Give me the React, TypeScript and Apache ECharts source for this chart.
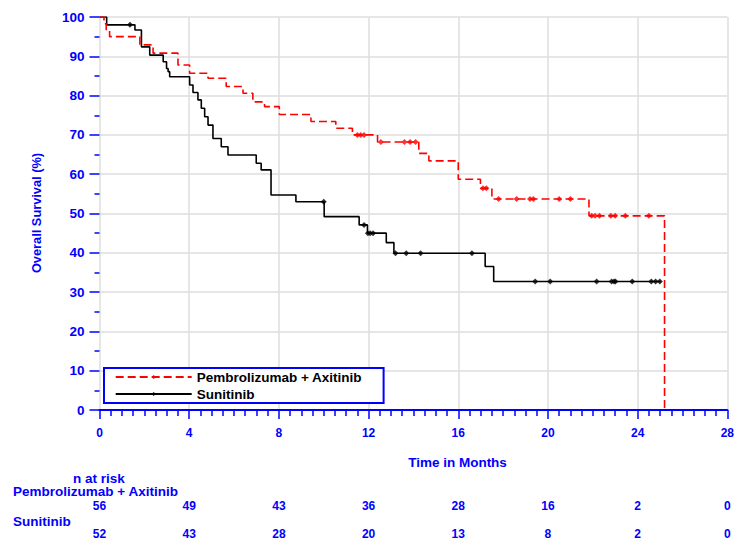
import React, { useEffect, useRef } from "react";
import * as echarts from "echarts";

// ---- data ----
const monthTicks = [0, 4, 8, 12, 16, 20, 24, 28];
const riskPembro = [56, 49, 43, 36, 28, 16, 2, 0];
const riskSunit = [52, 43, 28, 20, 13, 8, 2, 0];

const pembroName = "Pembrolizumab + Axitinib";
const sunitName = "Sunitinib";

// Kaplan-Meier steps: [time in months, survival % after that time]
const pembroSteps: [number, number][] = [
  [0, 100], [0.2, 98.3], [0.3, 96.6], [0.45, 95.0], [1.8, 92.9], [2.39, 90.8],
  [3.5, 87.8], [4.02, 85.7], [4.84, 84.4], [5.65, 82.3], [6.4, 80.6], [6.84, 78.4],
  [7.36, 77.2], [8.02, 75.2], [9.43, 73.4], [10.54, 71.7], [11.28, 70.0], [12.4, 68.2],
  [14.24, 65.3], [14.69, 63.4], [16.0, 58.7], [16.99, 56.4], [17.5, 53.7], [21.83, 49.4],
  [25.2, 49.4], [25.2, 0],
];
const sunitSteps: [number, number][] = [
  [0, 100], [0.32, 98.0], [1.58, 96.7], [1.87, 92.4], [2.24, 90.3], [2.84, 88.6],
  [2.99, 86.9], [3.06, 86.1], [3.13, 84.8], [4.02, 82.7], [4.17, 80.8], [4.39, 78.9],
  [4.54, 76.8], [4.69, 74.6], [4.84, 72.5], [5.06, 69.1], [5.43, 67.0], [5.73, 64.9],
  [6.99, 62.8], [7.21, 61.1], [7.65, 54.7], [8.76, 53.0], [10.02, 49.2], [11.58, 47.1],
  [11.95, 45.0], [12.79, 42.6], [13.13, 39.9], [17.2, 36.5], [17.58, 32.7], [25.04, 32.7],
];
const pembroCensorTimes = [
  11.5, 11.65, 11.8, 12.55, 13.6, 13.85, 14.1, 17.1, 17.25, 17.8, 18.6, 19.2, 19.35,
  20.5, 21.0, 21.95, 22.1, 22.3, 22.8, 23.0, 23.45, 24.5,
];
const sunitCensorTimes = [
  1.36, 10.0, 11.8, 11.97, 12.07, 12.2, 13.2, 13.68, 14.32, 16.61, 19.43, 20.1, 22.17,
  22.84, 22.95, 23.01, 23.76, 24.61, 24.8, 24.99,
];

function survivalAt(steps: [number, number][], t: number): number {
  let s = steps[0][1];
  for (const [x, y] of steps) {
    if (x <= t) s = y;
    else break;
  }
  return s;
}

const BLUE = "#0000ff";
const FONT = "'Liberation Sans', Arial, sans-serif";

export default function App() {
  const ref = useRef<HTMLDivElement>(null);

  useEffect(() => {
    if (!ref.current) return;
    const chart = echarts.init(ref.current, undefined, { renderer: "svg" });

    const riskAxis = (risk: number[], offset: number) => ({
      type: "value",
      gridIndex: 0,
      position: "bottom",
      offset,
      min: 0,
      max: 28,
      interval: 4,
      axisLine: { show: false },
      axisTick: { show: false },
      splitLine: { show: false },
      axisLabel: {
        margin: 6,
        color: BLUE,
        fontSize: 12,
        fontWeight: "bold",
        fontFamily: FONT,
        formatter: (v: number) => {
          const i = monthTicks.indexOf(v);
          return i >= 0 ? String(risk[i]) : "";
        },
      },
    });

    chart.setOption({
      animation: false,
      backgroundColor: "#ffffff",
      grid: { left: 99.5, right: 7.5, top: 17, bottom: 135, containLabel: false },
      xAxis: [
        {
          type: "value",
          min: 0,
          max: 28,
          interval: 4,
          axisLine: { show: true, lineStyle: { color: BLUE, width: 2 } },
          axisTick: { show: true, length: 9, lineStyle: { color: BLUE, width: 1.5 } },
          minorTick: { show: true, splitNumber: 8, length: 6, lineStyle: { color: BLUE, width: 1.5 } },
          splitLine: { show: true, lineStyle: { color: "#dedede", width: 1.5 } },
          axisLabel: { margin: 17, color: BLUE, fontSize: 12, fontWeight: "bold", fontFamily: FONT },
        },
        riskAxis(riskPembro, 84),
        riskAxis(riskSunit, 112),
      ],
      yAxis: {
        type: "value",
        min: 0,
        max: 100,
        interval: 10,
        axisLine: { show: false },
        axisTick: { show: true, length: 10, lineStyle: { color: BLUE, width: 1.5 } },
        minorTick: { show: true, splitNumber: 2, length: 5, lineStyle: { color: BLUE, width: 1.5 } },
        splitLine: { show: true, lineStyle: { color: "#dedede", width: 1.5 } },
        axisLabel: { margin: 15, color: BLUE, fontSize: 13.5, fontWeight: "bold", fontFamily: FONT },
      },
      legend: {
        left: 104,
        top: 368,
        orient: "vertical",
        data: [pembroName, sunitName],
        itemWidth: 76,
        itemHeight: 5,
        itemGap: 3,
        padding: [2, 21.5, 2, 10.7],
        borderColor: BLUE,
        borderWidth: 2,
        borderRadius: 0,
        backgroundColor: "#ffffff",
        textStyle: { color: "#000", fontSize: 13.5, fontWeight: "bold", fontFamily: FONT },
      },
      series: [
        {
          name: sunitName,
          type: "line",
          step: "end",
          data: sunitSteps,
          symbol: "diamond",
          symbolSize: 4,
          showSymbol: false,
          lineStyle: { color: "#000000", width: 1.6 },
          itemStyle: { color: "#000000" },
          z: 3,
        },
        {
          name: pembroName,
          type: "line",
          step: "end",
          data: pembroSteps,
          symbol: "diamond",
          symbolSize: 4,
          showSymbol: false,
          lineStyle: { color: "#ff0000", width: 1.6, type: [8, 4] },
          itemStyle: { color: "#ff0000" },
          z: 4,
        },
        {
          name: "sunitCensor",
          type: "scatter",
          data: sunitCensorTimes.map((t) => [t, survivalAt(sunitSteps, t)]),
          symbol: "diamond",
          symbolSize: 6,
          itemStyle: { color: "#000000" },
          z: 5,
        },
        {
          name: "pembroCensor",
          type: "scatter",
          data: pembroCensorTimes.map((t) => [t, survivalAt(pembroSteps, t)]),
          symbol: "diamond",
          symbolSize: 6,
          itemStyle: { color: "#ff0000" },
          z: 6,
        },
      ],
      graphic: [
        {
          type: "text",
          x: 36.5,
          y: 213,
          rotation: Math.PI / 2,
          style: {
            text: "Overall Survival (%)",
            fill: BLUE,
            font: `bold 12.8px ${FONT}`,
            textAlign: "center",
            textVerticalAlign: "middle",
          },
        },
        {
          type: "text",
          x: 457.5,
          y: 462.5,
          style: {
            text: "Time in Months",
            fill: BLUE,
            font: `bold 13.5px ${FONT}`,
            textAlign: "center",
            textVerticalAlign: "middle",
          },
        },
        {
          type: "text",
          x: 73,
          y: 478,
          style: { text: "n at risk", fill: BLUE, font: `bold 13.5px ${FONT}`, textAlign: "left", textVerticalAlign: "middle" },
        },
        {
          type: "text",
          x: 13,
          y: 491.7,
          style: { text: pembroName, fill: BLUE, font: `bold 13.5px ${FONT}`, textAlign: "left", textVerticalAlign: "middle" },
        },
        {
          type: "text",
          x: 13,
          y: 521,
          style: { text: sunitName, fill: BLUE, font: `bold 13.5px ${FONT}`, textAlign: "left", textVerticalAlign: "middle" },
        },
      ],
    });

    return () => chart.dispose();
  }, []);

  return (
    <div
      ref={ref}
      style={{ position: "fixed", left: 0, top: 0, width: 737, height: 545, background: "#fff" }}
    />
  );
}
